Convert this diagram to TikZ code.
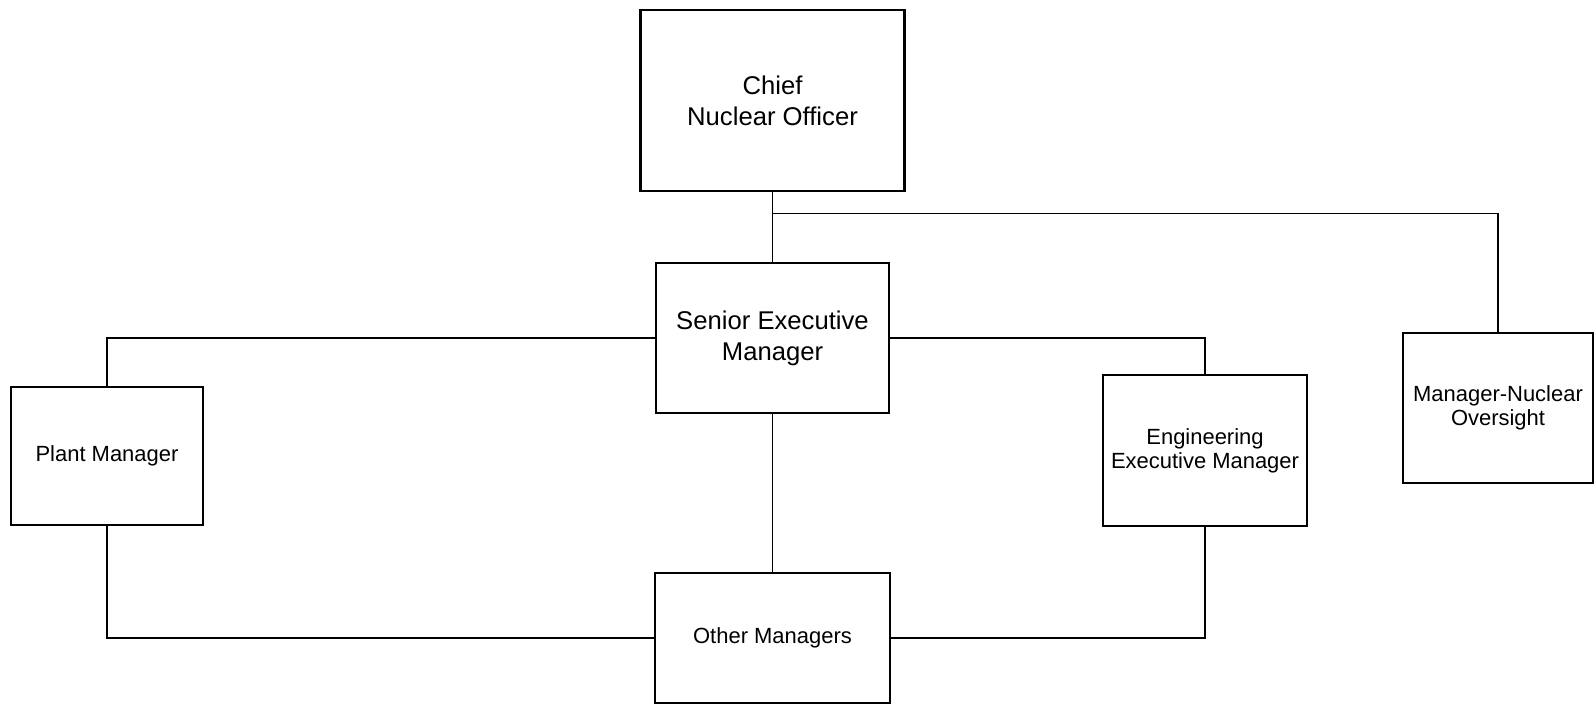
\documentclass[tikz,border=0pt]{standalone}
\usepackage{fontspec}
\setmainfont{Liberation Sans}
\begin{document}
\begin{tikzpicture}[line width=0.8pt,
                       main node/.style={rectangle,draw,line width=1.6pt,align=center,inner sep=2pt,font=\fontsize{14.6}{17.5}\selectfont},
                       sub node/.style={rectangle,draw,line width=1.6pt,align=center,inner sep=2pt,font=\fontsize{12.5}{13.6}\selectfont},
                       hv/.style={to path={-| (\tikztotarget)}},
                       vh/.style={to path={|- (\tikztotarget)}}
                      ]
  \useasboundingbox (0,0) rectangle (31.9,-14.08);
  \node[main node,minimum width=5.28cm,minimum height=3.62cm] (cno) at (15.45,-2.01) {Chief\\Nuclear Officer};
  \node[main node,minimum width=4.66cm,minimum height=3.00cm] (sem) at (15.45,-6.76) {Senior Executive\\Manager};
  \node[sub node,minimum width=3.84cm,minimum height=2.76cm] (pm) at (2.14,-9.12) {Plant Manager};
  \node[sub node,minimum width=4.08cm,minimum height=3.02cm] (eem) at (24.10,-9.01) {Engineering\\Executive Manager};
  \node[sub node,minimum width=3.80cm,minimum height=3.00cm] (mno) at (29.96,-8.16) {Manager-Nuclear\\Oversight};
  \node[sub node,minimum width=4.70cm,minimum height=2.60cm] (om) at (15.45,-12.76) {Other Managers};
  \coordinate (j) at (15.45,-4.27);

  \path[draw]%
   (cno) edge (sem)
   (j) edge [hv] (mno)
   (sem) edge [hv] (pm)
   (sem) edge [hv] (eem)
   (sem) edge (om)
   (pm) edge [vh] (om)
   (eem) edge [vh] (om);
 \end{tikzpicture}
\end{document}
